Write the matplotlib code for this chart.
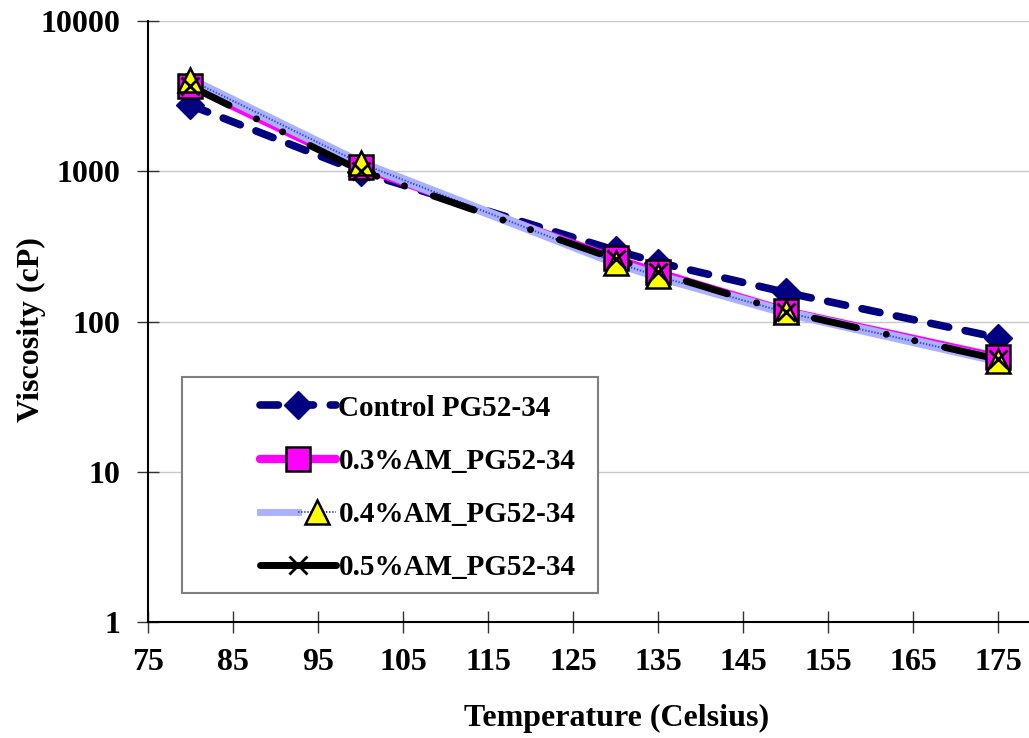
import numpy as np
import matplotlib
matplotlib.use('Agg')
import matplotlib.pyplot as plt
from matplotlib.lines import Line2D
from matplotlib.patches import Rectangle
from matplotlib.legend_handler import HandlerTuple

plt.rcParams['font.family'] = 'Liberation Serif'
plt.rcParams['font.weight'] = 'bold'

# viscosity readings (cP) at each test temperature (C)
temps = [80, 100, 130, 135, 150, 175]
control = [2750, 990, 297, 247, 156, 78]
am03 = [3690, 1064, 263, 212, 118, 58]
am04 = [4045, 1130, 247, 200, 115, 55]
am05 = [3690, 1010, 260, 212, 116, 56]
labels = ['Control PG52-34', '0.3%AM_PG52-34', '0.4%AM_PG52-34', '0.5%AM_PG52-34']
xticks = [75, 85, 95, 105, 115, 125, 135, 145, 155, 165, 175]
yticks = [1, 10, 100, 1000, 10000]

fig = plt.figure(figsize=(10.29, 7.38), dpi=100)
ax = fig.add_axes([0.1438, 0.1572, 0.8562, 0.8143])
ax.set_yscale('log')
ax.set_xlim(75, 178.6)
ax.set_ylim(1, 10000)

for y in yticks:
    ax.axhline(y, color='#c8c8c8', lw=1, zorder=0)

# lines
ax.plot(temps, control, color='#000080', lw=5.5, dashes=(2.4, 2.2),
        dash_capstyle='round', zorder=2)
ax.plot(temps, am03, color='#ff00ff', lw=5.5, solid_capstyle='round', zorder=3)
ax.plot(temps, am04, color='#aab2ff', lw=7, zorder=4)
ax.plot(temps, am04, color='#3040ff', lw=1.4, dashes=(0.7, 0.9), zorder=4)
ax.plot(temps, am05, color='black', lw=5,
        linestyle=(0, (6.2, 4.4, 0.01, 4.2, 0.01, 4.4)),
        dash_capstyle='round', zorder=5)

# markers
ax.plot(temps, control, ls='none', marker='D', ms=14, color='#000080',
        mec='#000080', zorder=6)
ax.plot(temps, am03, ls='none', marker='s', ms=17, color='#ff00ff',
        mec='black', mew=1.8, zorder=7)
ax.plot(temps, am04, ls='none', marker='^', ms=17, color='#ffff00',
        mec='black', mew=1.8, zorder=8)
ax.plot(temps, am05, ls='none', marker='x', ms=13, color='black',
        mew=2, zorder=9)

ax.set_xticks(xticks)
ax.set_xticklabels([str(t) for t in xticks])
ax.set_yticks(yticks)
ax.set_yticklabels([str(t) for t in yticks])
ax.minorticks_off()
ax.tick_params(axis='both', direction='inout', length=16, width=1, labelsize=23, color='#333333')
ax.tick_params(axis='y', pad=12)
ax.tick_params(axis='x', pad=11)
for lab in ax.get_xticklabels() + ax.get_yticklabels():
    lab.set_fontweight('bold')

for s in ['top', 'right']:
    ax.spines[s].set_visible(False)
ax.spines['left'].set_color('black')
ax.spines['bottom'].set_color('black')
ax.spines['left'].set_linewidth(1.5)
ax.spines['bottom'].set_linewidth(1.5)

ax.set_xlabel('Temperature (Celsius)', fontsize=23, fontweight='bold')
ax.xaxis.set_label_coords((617 - 148) / 881, -(704 - 622) / 601)
ax.set_ylabel('Viscosity (cP)', fontsize=23, fontweight='bold')
ax.yaxis.set_label_coords((46 - 148) / 881, (622 - 330) / 601)

# legend box
box = Rectangle((182, 738 - 593), 416, 216, transform=None, facecolor='white',
                edgecolor='#808080', lw=1.5, zorder=10)
fig.patches.append(box)

h_ctrl = Line2D([], [], color='#000080', lw=5.5, dashes=(2.4, 2.2), dash_capstyle='round',
                marker='D', ms=14, mec='#000080')
h_03 = Line2D([], [], color='#ff00ff', lw=6, marker='s', ms=17, mfc='#ff00ff',
              mec='black', mew=1.8, solid_capstyle='round')
h_04 = (Line2D([], [], color='#aab2ff', lw=5),
        Line2D([], [], color='#3040ff', lw=1.4, dashes=(0.7, 0.9), marker='^', ms=17,
               mfc='#ffff00', mec='black', mew=1.8))
h_05 = Line2D([], [], color='black', lw=5, marker='x', ms=13, mew=2, solid_capstyle='round')
leg = fig.legend([h_ctrl, h_03, h_04, h_05], labels, loc='upper left',
                 bbox_to_anchor=(248 / 1029, 1 - 383 / 738), bbox_transform=fig.transFigure,
                 frameon=False, handlelength=2.6, handletextpad=0.1,
                 labelspacing=0.9, borderaxespad=0,
                 handler_map={tuple: HandlerTuple(ndivide=None, pad=0)},
                 prop={'weight': 'bold', 'size': 21})
leg.set_zorder(11)

fig.savefig('out.png', dpi=100)
